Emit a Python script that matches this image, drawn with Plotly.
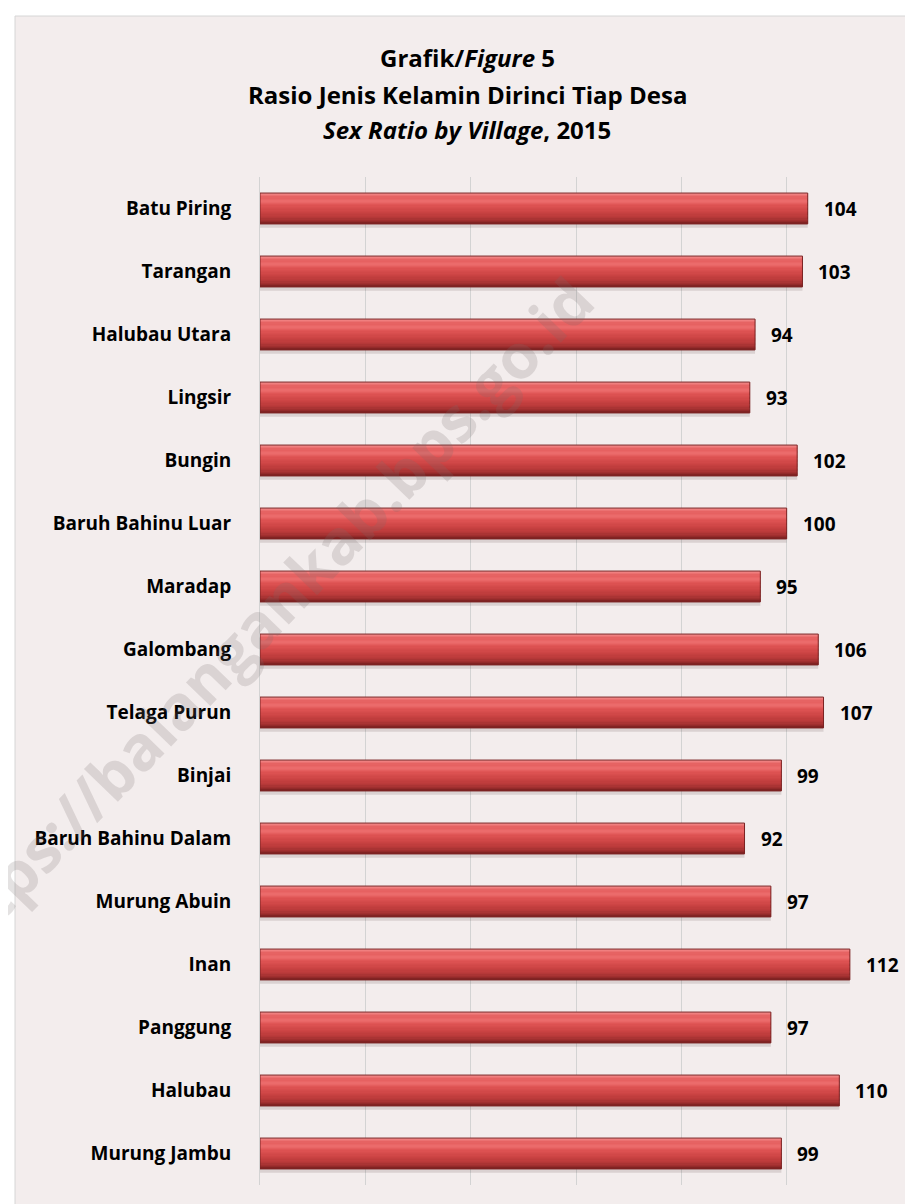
import plotly.graph_objects as go

# ---- data ----
villages = [
    "Batu Piring", "Tarangan", "Halubau Utara", "Lingsir", "Bungin",
    "Baruh Bahinu Luar", "Maradap", "Galombang", "Telaga Purun", "Binjai",
    "Baruh Bahinu Dalam", "Murung Abuin", "Inan", "Panggung", "Halubau",
    "Murung Jambu",
]
sex_ratio = [104, 103, 94, 93, 102, 100, 95, 106, 107, 99, 92, 97, 112, 97, 110, 99]
x_ticks = [0, 20, 40, 60, 80, 100, 120]

title_lines = [
    "<b>Grafik/<i>Figure</i> 5</b>",
    "<b>Rasio Jenis Kelamin Dirinci Tiap Desa</b>",
    "<b><i>Sex Ratio by Village</i>, 2015</b>",
]
watermark = "https://balangankab.bps.go.id"

# ---- layout geometry (pixels) ----
W, H = 913, 1204
PL, PR, PT, PB = 252, 884, 169, 1177
pw, ph = PR - PL, PB - PT


def px_x(px):
    return (px - PL) / pw


def px_y(py):
    return (PB - py) / ph


FONT = "'Open Sans', Lato, 'DejaVu Sans', sans-serif"
BAR_W = 0.49

fig = go.Figure()

# drop shadow under the bars
fig.add_trace(go.Bar(
    x=sex_ratio, y=villages, orientation="h",
    offset=BAR_W / 2 - 0.01, width=0.07,
    marker=dict(color="rgba(70,40,40,0.14)", line=dict(width=0)),
    hoverinfo="skip", showlegend=False,
))

# smooth vertical gradient emulating the cylindrical 3D bar look
stops = [
    (0.00, (248, 168, 168)),
    (0.06, (240, 128, 128)),
    (0.16, (228, 94, 94)),
    (0.28, (236, 108, 108)),
    (0.42, (221, 82, 82)),
    (0.62, (204, 68, 68)),
    (0.80, (184, 57, 57)),
    (0.92, (154, 45, 45)),
    (1.00, (122, 32, 32)),
]


def grad(f):
    for (a, ca), (b, cb) in zip(stops[:-1], stops[1:]):
        if a <= f <= b:
            t = (f - a) / (b - a)
            c = [round(ca[k] + (cb[k] - ca[k]) * t) for k in range(3)]
            return f"rgb({c[0]},{c[1]},{c[2]})"
    return "rgb(122,32,32)"


NB = 24
for i in range(NB):
    f0, f1 = i / NB, (i + 1) / NB
    fig.add_trace(go.Bar(
        x=sex_ratio, y=villages, orientation="h",
        offset=-BAR_W / 2 + f0 * BAR_W, width=(f1 - f0) * BAR_W + 0.002,
        marker=dict(color=grad((f0 + f1) / 2), line=dict(width=0)),
        hoverinfo="skip", showlegend=False,
    ))

# outline
fig.add_trace(go.Bar(
    x=sex_ratio, y=villages, orientation="h",
    offset=-BAR_W / 2, width=BAR_W,
    marker=dict(color="rgba(0,0,0,0)", line=dict(color="#7A2222", width=1)),
    hoverinfo="skip", showlegend=False,
))

# value labels
for v, name in zip(sex_ratio, villages):
    fig.add_annotation(
        x=v, y=name, xref="x", yref="y", text=f"<b>{v}</b>",
        showarrow=False, xanchor="left", yanchor="middle", xshift=14,
        font=dict(family=FONT, size=19, color="#000000"),
    )

# title lines
for i, line in enumerate(title_lines):
    fig.add_annotation(
        x=px_x(459), y=px_y(50 + 36 * i), xref="paper", yref="paper",
        text=line, showarrow=False, xanchor="center", yanchor="middle",
        font=dict(family=FONT, size=24, color="#000000"),
    )

# watermark
fig.add_annotation(
    x=px_x(250), y=px_y(614), xref="paper", yref="paper",
    text=f"<b>{watermark}</b>", showarrow=False, textangle=-46,
    xanchor="center", yanchor="middle",
    font=dict(family=FONT, size=62, color="rgba(120,110,110,0.2)"),
)

# chart background panel with border
fig.add_shape(
    type="rect", xref="paper", yref="paper", layer="below",
    x0=px_x(7), x1=px_x(905), y0=px_y(1206), y1=px_y(8),
    fillcolor="#F3EDED", line=dict(color="#D6D6D6", width=1),
)

fig.update_layout(
    width=W, height=H,
    margin=dict(l=PL, r=W - PR, t=PT, b=H - PB, pad=0),
    paper_bgcolor="#FFFFFF",
    plot_bgcolor="rgba(0,0,0,0)",
    barmode="overlay",
    showlegend=False,
    font=dict(family=FONT, color="#000000"),
)
fig.update_xaxes(
    range=[x_ticks[0], x_ticks[-1]], tickvals=x_ticks, showticklabels=False,
    showgrid=True, gridcolor="#D3D3D3", gridwidth=1, zeroline=False,
    showline=False, ticks="",
)
fig.update_yaxes(
    autorange="reversed", showgrid=False, zeroline=False,
    showline=True, linecolor="#D3D3D3", linewidth=1,
    ticks="", ticklabelstandoff=24,
    tickfont=dict(family=FONT, size=19, color="#000000", weight="bold"),
)

fig.write_html("out.html")
